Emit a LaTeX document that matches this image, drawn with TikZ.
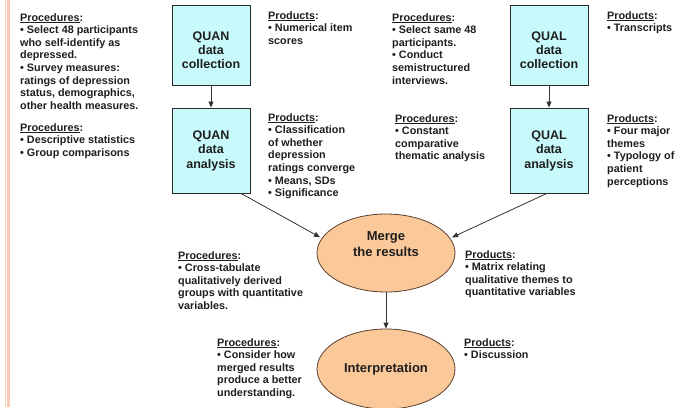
\documentclass[tikz,border=0pt]{standalone}
\usepackage{fontspec}
\setmainfont{Liberation Sans}
\usetikzlibrary{shapes.geometric,arrows.meta}
\definecolor{boxfill}{HTML}{C8FAFC}
\definecolor{boxline}{HTML}{2A2A2A}
\definecolor{ellfill}{HTML}{FAC899}
\definecolor{ellline}{HTML}{5A4030}
\definecolor{stripecol}{HTML}{FCC9B6}
\definecolor{txtcol}{HTML}{1E1E1E}
\definecolor{arrcol}{HTML}{333333}
\newcommand\myul[1]{\setbox0\hbox{#1}\rlap{\rule[-1.5pt]{\wd0}{0.7pt}}#1}
\tikzset{
  txt/.style={anchor=north west, inner sep=0pt, align=left, text=txtcol,
    font=\fontsize{10.8}{12.6}\selectfont\bfseries},
  box/.style={draw=boxline, fill=boxfill, line width=0.9pt, minimum width=78pt,
    minimum height=80pt, inner sep=0pt, align=center, text=txtcol,
    font=\fontsize{12.5}{14.5}\selectfont\bfseries},
  boxtxt/.style={inner sep=0pt, align=center, text=txtcol,
    font=\fontsize{12.5}{14}\selectfont\bfseries},
  ell/.style={ellipse, draw=ellline, fill=ellfill, line width=0.8pt,
    minimum width=138pt, minimum height=78pt, inner sep=0pt},
  elltxt/.style={align=center, inner sep=0pt, text=txtcol,
    font=\fontsize{13}{15.5}\selectfont\bfseries},
  arr/.style={draw=arrcol, line width=0.8pt, -{Triangle[length=6pt,width=5pt]}}
}
\begin{document}
\begin{tikzpicture}[x=1pt,y=-1pt]
\useasboundingbox (0,0) rectangle (680,407);
\fill[white] (0,0) rectangle (680,407);
\fill[stripecol] (4.5,0) rectangle (5.7,407);
\fill[stripecol] (6.8,0) rectangle (9.8,407);

% boxes
\node[box] (quanC) at (211,45) {};
\node[boxtxt] (quanCtxt) at (211,50) {QUAN\\data\\collection};
\node[box, minimum height=85pt] (quanA) at (211,150.5) {QUAN\\data\\analysis};
\node[box] (qualC) at (549,45) {};
\node[boxtxt] (qualCtxt) at (549,50) {QUAL\\data\\collection};
\node[box, minimum height=85pt] (qualA) at (549,150.5) {QUAL\\data\\analysis};

% ellipses
\node[ell] (merge) at (386,253) {};
\node[elltxt] (mergetxt) at (386,244) {Merge\\the results};
\node[ell, minimum height=80pt] (interp) at (386,369) {};
\node[elltxt] (interptxt) at (386,369) {Interpretation};

% connectors
\draw[arr] (quanC) -- (quanA);
\draw[arr] (qualC) -- (qualA);
\draw[arr, shorten >=2pt] (quanA.-55) -- (merge.167);
\draw[arr, shorten >=2pt] (qualA.-93) -- (merge.13);
\draw[arr] (merge) -- (interp);

% texts
\node[txt] (t1) at (20,13) {\myul{Procedures}:\\• Select 48 participants\\who self-identify as\\depressed.\\• Survey measures:\\ratings of depression\\status, demographics,\\other health measures.};
\node[txt] (t2) at (20,123) {\myul{Procedures}:\\• Descriptive statistics\\• Group comparisons};
\node[txt] (t3) at (268,11) {\myul{Products}:\\• Numerical item\\scores};
\node[txt] (t4) at (268,113) {\myul{Products}:\\• Classification\\of whether\\depression\\ratings converge\\• Means, SDs\\• Significance};
\node[txt] (t5) at (392,13) {\myul{Procedures}:\\• Select same 48\\participants.\\• Conduct\\semistructured\\interviews.};
\node[txt] (t6) at (607,11) {\myul{Products}:\\• Transcripts};
\node[txt] (t7) at (395,114) {\myul{Procedures}:\\• Constant\\comparative\\thematic analysis};
\node[txt] (t8) at (607,114) {\myul{Products}:\\• Four major\\themes\\• Typology of\\patient\\perceptions};
\node[txt] (t9) at (178,251) {\myul{Procedures}:\\• Cross-tabulate\\qualitatively derived\\groups with quantitative\\variables.};
\node[txt] (t10) at (465,250) {\myul{Products}:\\• Matrix relating\\qualitative themes to\\quantitative variables};
\node[txt] (t11) at (217,338) {\myul{Procedures}:\\• Consider how\\merged results\\produce a better\\understanding.};
\node[txt] (t12) at (464,338) {\myul{Products}:\\• Discussion};
\end{tikzpicture}
\end{document}
